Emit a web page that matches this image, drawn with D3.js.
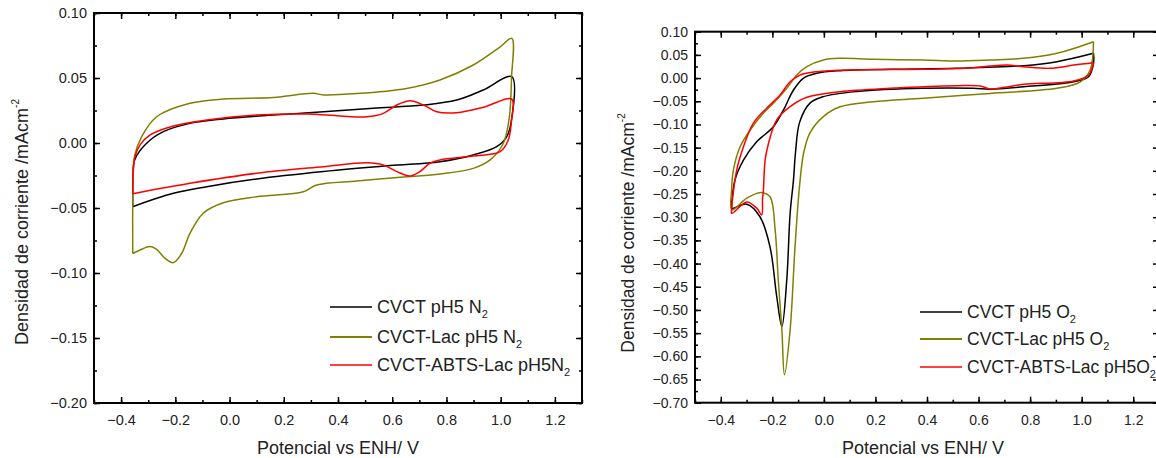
<!DOCTYPE html>
<html>
<head>
<meta charset="utf-8">
<script src="https://cdn.jsdelivr.net/npm/d3@7"></script>
<style>
  body { margin: 0; background: #fff; }
  svg { display: block; font-family: "Liberation Sans", Arial, sans-serif; }
  .tick text { fill: #222; }
</style>
</head>
<body>
<svg id="chart" width="1156" height="458"></svg>
<script>
// ---- data: [potential V, current mA/cm2] ----
const xTicks = [-0.4, -0.2, 0.0, 0.2, 0.4, 0.6, 0.8, 1.0, 1.2];
const leftYTicks = [0.10, 0.05, 0.00, -0.05, -0.10, -0.15, -0.20];
const rightYTicks = [0.10, 0.05, 0.00, -0.05, -0.10, -0.15, -0.20, -0.25, -0.30, -0.35,
  -0.40, -0.45, -0.50, -0.55, -0.60, -0.65, -0.70];

const n2Labels = ["CVCT pH5 N", "CVCT-Lac pH5 N", "CVCT-ABTS-Lac pH5N"];
const o2Labels = ["CVCT pH5 O", "CVCT-Lac pH5 O", "CVCT-ABTS-Lac pH5O"];
const seriesColors = ["#000000", "#808000", "#ff0000"];

const cvctN2 = [
  [-0.357, -0.049], [-0.356, -0.026], [-0.350, -0.013], [-0.306, -0.0002], [-0.244, 0.0087],
  [-0.146, 0.0151], [-0.023, 0.0185], [0.161, 0.0215], [0.346, 0.024], [0.530, 0.0267],
  [0.715, 0.0292], [0.838, 0.033], [0.936, 0.0408], [1.041, 0.051],
  [1.040, 0.0177], [1.022, 0.0048], [0.985, -0.0028], [0.899, -0.0092], [0.776, -0.0144],
  [0.592, -0.0174], [0.346, -0.022], [0.100, -0.0277], [-0.084, -0.0336], [-0.207, -0.0387],
  [-0.357, -0.049]
];
const lacN2 = [
  [-0.357, -0.085], [-0.356, -0.030], [-0.350, -0.010], [-0.324, 0.0049], [-0.269, 0.0202],
  [-0.146, 0.0305], [-0.023, 0.0338], [0.161, 0.035], [0.309, 0.0382], [0.346, 0.037],
  [0.469, 0.038], [0.653, 0.042], [0.776, 0.0485], [0.899, 0.060], [0.998, 0.074],
  [1.041, 0.0805], [1.040, 0.050], [1.032, 0.020], [1.010, -0.0002], [0.961, -0.013],
  [0.899, -0.0195], [0.776, -0.0238], [0.653, -0.026], [0.469, -0.0292], [0.321, -0.0323],
  [0.272, -0.0375], [0.100, -0.0413], [-0.023, -0.046], [-0.097, -0.054], [-0.146, -0.0695],
  [-0.177, -0.085], [-0.207, -0.092], [-0.238, -0.0887], [-0.269, -0.0818], [-0.293, -0.0797],
  [-0.330, -0.0823], [-0.357, -0.085]
];
const abtsN2 = [
  [-0.357, -0.0387], [-0.356, -0.024], [-0.349, -0.0105], [-0.330, -0.0015], [-0.293, 0.0062],
  [-0.207, 0.0131], [-0.084, 0.0177], [0.100, 0.0215], [0.285, 0.0223], [0.407, 0.0208],
  [0.506, 0.0202], [0.567, 0.0228], [0.617, 0.0292], [0.666, 0.0325], [0.715, 0.0292],
  [0.764, 0.024], [0.838, 0.0233], [0.936, 0.0275], [1.041, 0.0338],
  [1.040, 0.0177], [1.028, 0.0023], [0.998, -0.0067], [0.899, -0.010], [0.776, -0.013],
  [0.739, -0.0156], [0.702, -0.022], [0.666, -0.0254], [0.617, -0.022], [0.567, -0.0169],
  [0.506, -0.0152], [0.346, -0.0182], [0.100, -0.0233], [-0.146, -0.031], [-0.357, -0.039]
];

const cvctO2 = [
  [1.046, 0.0534], [0.904, 0.0353], [0.775, 0.0267], [0.516, 0.021], [0.257, 0.019],
  [0.063, 0.016], [-0.028, 0.0103], [-0.080, -0.0005], [-0.118, -0.0257], [-0.157, -0.069],
  [-0.196, -0.105], [-0.260, -0.137], [-0.312, -0.177], [-0.345, -0.22], [-0.358, -0.277],
  [-0.357, -0.281], [-0.299, -0.272], [-0.248, -0.299], [-0.209, -0.364], [-0.183, -0.471],
  [-0.163, -0.536], [-0.144, -0.435], [-0.131, -0.292], [-0.118, -0.22], [-0.110, -0.160],
  [-0.094, -0.095], [-0.054, -0.054], [-0.002, -0.040], [0.128, -0.029], [0.386, -0.022],
  [0.580, -0.022], [0.645, -0.024], [0.775, -0.0186], [0.969, -0.0078], [1.027, 0.003],
  [1.046, 0.032], [1.046, 0.0534]
];
const lacO2 = [
  [1.046, 0.0784], [0.904, 0.0534], [0.774, 0.0426], [0.645, 0.039], [0.516, 0.0368],
  [0.387, 0.039], [0.192, 0.0405], [0.063, 0.0426], [-0.002, 0.039], [-0.066, 0.0245],
  [-0.105, 0.0066], [-0.144, -0.022], [-0.196, -0.0544], [-0.235, -0.076], [-0.286, -0.112],
  [-0.325, -0.148], [-0.351, -0.198], [-0.358, -0.241], [-0.357, -0.284],
  [-0.299, -0.259], [-0.241, -0.247], [-0.209, -0.256], [-0.189, -0.328], [-0.177, -0.435],
  [-0.163, -0.543], [-0.153, -0.640], [-0.131, -0.543], [-0.112, -0.364], [-0.094, -0.23],
  [-0.078, -0.16], [-0.054, -0.118], [-0.002, -0.083], [0.063, -0.062], [0.192, -0.051],
  [0.386, -0.0437], [0.645, -0.033], [0.904, -0.022], [0.995, -0.008], [1.033, 0.0174],
  [1.046, 0.0784]
];
const abtsO2 = [
  [1.046, 0.033], [0.969, 0.028], [0.878, 0.021], [0.775, 0.0245], [0.710, 0.028],
  [0.645, 0.026], [0.580, 0.0225], [0.386, 0.019], [0.128, 0.0177], [-0.028, 0.0137],
  [-0.092, 0.0066], [-0.131, -0.0078], [-0.170, -0.0365], [-0.222, -0.065], [-0.274, -0.0975],
  [-0.312, -0.148], [-0.338, -0.198], [-0.358, -0.284], [-0.357, -0.292],
  [-0.299, -0.267], [-0.260, -0.281], [-0.241, -0.295], [-0.238, -0.26], [-0.235, -0.245],
  [-0.228, -0.177], [-0.215, -0.141], [-0.183, -0.09], [-0.131, -0.0617], [-0.066, -0.0415],
  [0.063, -0.0294], [0.257, -0.022], [0.516, -0.0164], [0.606, -0.017], [0.645, -0.0236],
  [0.710, -0.019], [0.775, -0.0135], [0.969, -0.0063], [1.027, 0.0066], [1.046, 0.033]
];

const svg = d3.select("#chart");

function drawPanel(cfg) {
  const g = svg.append("g");

  const x = d3.scaleLinear().domain([-0.5, 1.3]).range([cfg.left, cfg.right]);
  const y = d3.scaleLinear().domain([cfg.yMin, 0.10]).range([cfg.bottom, cfg.top]);

  const minorX = d3.range(-0.5, 1.3001, 0.1);
  const minorY = d3.range(cfg.yMin, 0.1001, 0.025);

  // curves
  const line = d3.line()
    .x(d => x(d[0]))
    .y(d => y(d[1]))
    .curve(d3.curveCatmullRom.alpha(0.5));

  g.selectAll(".curve")
    .data(cfg.series)
    .join("path")
    .attr("class", "curve")
    .attr("d", d => line(d))
    .attr("fill", "none")
    .attr("stroke", (d, i) => seriesColors[i])
    .attr("stroke-width", 1.5)
    .attr("stroke-linejoin", "round");

  // legend
  const leg = g.append("g");
  cfg.labels.forEach((lab, i) => {
    const ly = cfg.legY[i];
    leg.append("line")
      .attr("x1", cfg.legX).attr("x2", cfg.legX + 42)
      .attr("y1", ly).attr("y2", ly)
      .attr("stroke", seriesColors[i]).attr("stroke-width", i === 1 ? 2 : 1.3);
    const t = leg.append("text")
      .attr("x", cfg.legX + 47).attr("y", ly + 6)
      .attr("font-size", cfg.legFont).attr("fill", "#222")
      .text(lab);
    t.append("tspan").attr("dy", 5).attr("font-size", 11).text("2");
  });

  // axes (ticks inward)
  const axes = [
    [d3.axisBottom(x).tickValues(xTicks).tickSize(-6).tickPadding(12).tickFormat(d3.format(".1f")), `translate(0,${cfg.bottom})`],
    [d3.axisBottom(x).tickValues(minorX).tickSize(-3).tickFormat(""), `translate(0,${cfg.bottom})`],
    [d3.axisTop(x).tickValues(xTicks).tickSize(-6).tickFormat(""), `translate(0,${cfg.top})`],
    [d3.axisTop(x).tickValues(minorX).tickSize(-3).tickFormat(""), `translate(0,${cfg.top})`],
    [d3.axisLeft(y).tickValues(cfg.yTicks).tickSize(-6).tickPadding(7).tickFormat(d3.format(".2f")), `translate(${cfg.left},0)`],
    [d3.axisLeft(y).tickValues(minorY).tickSize(-3).tickFormat(""), `translate(${cfg.left},0)`],
    [d3.axisRight(y).tickValues(cfg.yTicks).tickSize(-6).tickFormat(""), `translate(${cfg.right},0)`],
    [d3.axisRight(y).tickValues(minorY).tickSize(-3).tickFormat(""), `translate(${cfg.right},0)`]
  ];
  axes.forEach(([ax, tr]) => {
    g.append("g")
      .attr("transform", tr)
      .call(ax)
      .attr("font-size", cfg.tickFont)
      .attr("font-family", null)
      .call(a => a.select(".domain").remove())
      .call(a => a.selectAll("line").attr("stroke", "#000").attr("stroke-width", 1.5));
  });

  // frame
  g.append("rect")
    .attr("x", cfg.left).attr("y", cfg.top)
    .attr("width", cfg.right - cfg.left).attr("height", cfg.bottom - cfg.top)
    .attr("fill", "none").attr("stroke", "#000").attr("stroke-width", 2);

  // axis titles
  g.append("text")
    .attr("x", cfg.xTitleX).attr("y", 454)
    .attr("text-anchor", "middle").attr("font-size", 18).attr("fill", "#222")
    .text("Potencial vs ENH/ V");

  const yt = g.append("text")
    .attr("transform", `translate(${cfg.yTitleX},${cfg.yTitleY}) rotate(-90)`)
    .attr("text-anchor", "middle").attr("font-size", cfg.yTitleFont).attr("fill", "#222")
    .text("Densidad de corriente /mAcm");
  yt.append("tspan").attr("dy", -9).attr("font-size", 10).text("-2");
}

drawPanel({
  left: 94, right: 582, top: 13, bottom: 403, yMin: -0.20,
  yTicks: leftYTicks, series: [cvctN2, lacN2, abtsN2], labels: n2Labels,
  legX: 330, legY: [307, 337, 365], tickFont: 14.5, legFont: 18,
  yTitleX: 28, yTitleY: 222, yTitleFont: 18, xTitleX: 338
});

drawPanel({
  left: 695, right: 1159, top: 31.7, bottom: 402.7, yMin: -0.70,
  yTicks: rightYTicks, series: [cvctO2, lacO2, abtsO2], labels: o2Labels,
  legX: 920, legY: [312, 339, 367], tickFont: 14, legFont: 17.5,
  yTitleX: 634, yTitleY: 233, yTitleFont: 17.5, xTitleX: 923
});
</script>
</body>
</html>
